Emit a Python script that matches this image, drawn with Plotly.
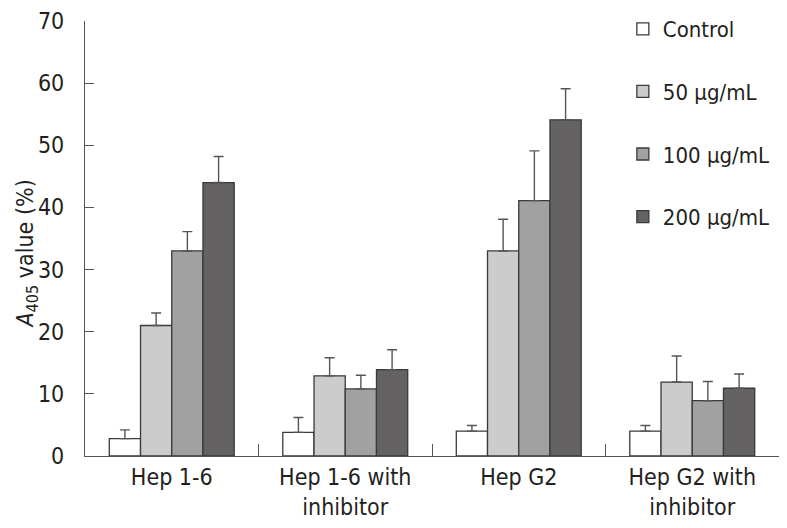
import plotly.graph_objects as go

categories = ["Hep 1-6", "Hep 1-6 with<br>inhibitor", "Hep G2", "Hep G2 with<br>inhibitor"]
series_names = ["Control", "50 μg/mL", "100 μg/mL", "200 μg/mL"]
control = [2.8, 3.8, 4.0, 4.0]
c50 = [21.0, 12.9, 33.0, 11.9]
c100 = [33.0, 10.8, 41.1, 8.9]
c200 = [44.0, 13.9, 54.1, 10.9]
err_control = [1.4, 2.4, 0.9, 0.9]
err_c50 = [2.0, 2.9, 5.1, 4.2]
err_c100 = [3.1, 2.2, 8.0, 3.1]
err_c200 = [4.2, 3.2, 5.0, 2.3]
y_ticks = [0, 10, 20, 30, 40, 50, 60, 70]
y_title = "<i>A</i><sub>405</sub> value (%)"

values = [control, c50, c100, c200]
errors = [err_control, err_c50, err_c100, err_c200]
colors = ["#ffffff", "#cbcccb", "#a0a1a0", "#646263"]

font_family = "DejaVu Sans Condensed, DejaVu Sans"
text_color = "#231f20"

fig = go.Figure()
for i, (name, vals, errs, col) in enumerate(zip(series_names, values, errors, colors)):
    fig.add_trace(go.Bar(
        x=categories, y=vals, name=name,
        marker=dict(color=col, line=dict(color="#3a3a3a", width=1.3)),
        error_y=dict(type="data", array=errs, symmetric=False, arrayminus=[0]*len(errs),
                     color="#555555", thickness=1.4, width=5),
        legendgroup=f"g{i}",
    ))

fig.add_annotation(
    text=y_title, textangle=-90, xref="paper", yref="paper",
    x=-0.083, y=0.464, xanchor="center", yanchor="middle", showarrow=False,
    font=dict(size=23, family=font_family, color=text_color),
)

fig.update_layout(
    width=771, height=512,
    margin=dict(l=77, r=0, t=13, b=64),
    paper_bgcolor="white", plot_bgcolor="white",
    barmode="group", bargap=0.28, bargroupgap=0,
    font=dict(family=font_family, size=23, color=text_color),
    showlegend=True,
    legend=dict(x=0.775, y=1.0299, xanchor="left", yanchor="top",
                bgcolor="rgba(0,0,0,0)", tracegroupgap=31,
                font=dict(size=22, family=font_family, color=text_color)),
    xaxis=dict(
        type="category", showline=True, linecolor="#555555", linewidth=1.3,
        ticks="inside", ticklen=12, tickcolor="#555555", tickwidth=1.3,
        tickson="boundaries", showgrid=False, zeroline=False, automargin=False,
        ticklabelstandoff=0, tickangle=0,
        tickfont=dict(size=23, family=font_family, color=text_color),
    ),
    yaxis=dict(
        range=[0, 70], tickvals=y_ticks, showline=True, linecolor="#555555", linewidth=1.3,
        ticks="inside", ticklen=9, tickcolor="#555555", tickwidth=1.3,
        showgrid=False, zeroline=False, automargin=False,
        ticklabelstandoff=15, ticklabeloverflow="allow",
        tickfont=dict(size=23, family=font_family, color=text_color),
    ),
)

fig.write_html("out.html")
